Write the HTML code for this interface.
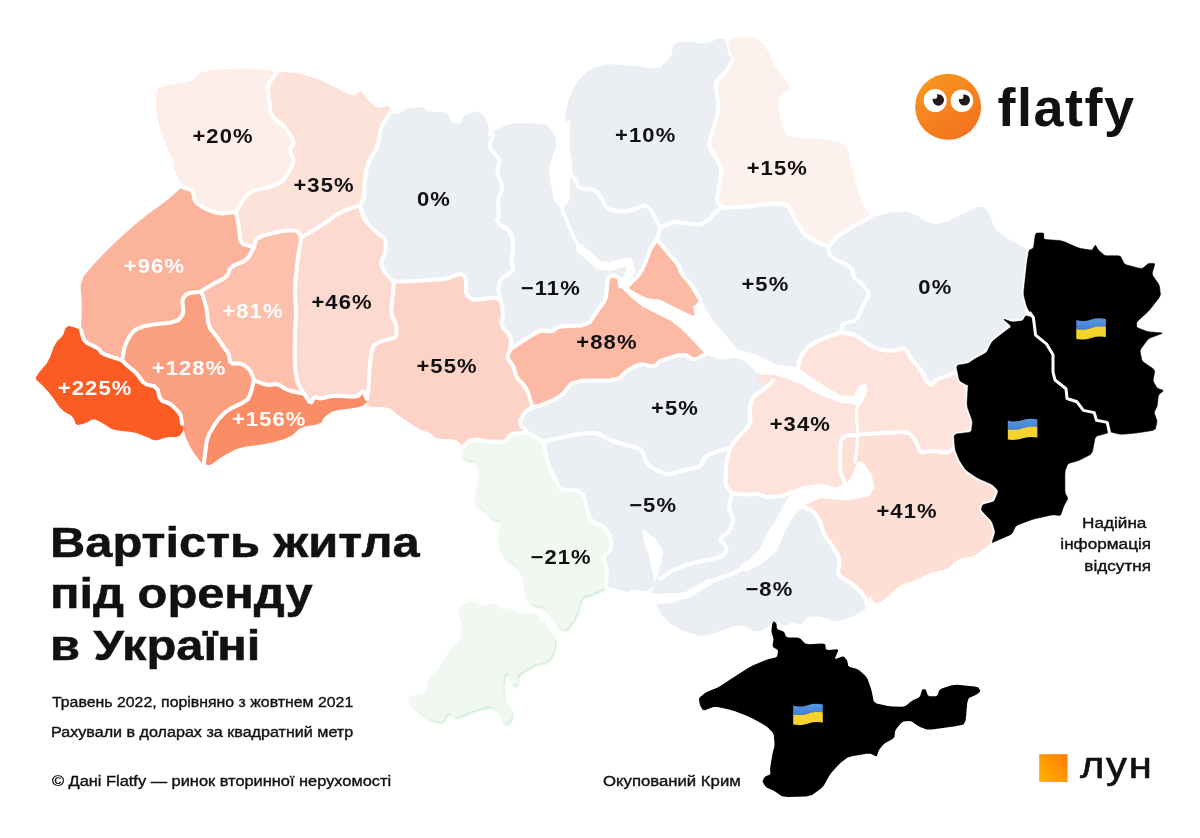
<!DOCTYPE html>
<html lang="uk"><head><meta charset="utf-8"><title>Вартість житла під оренду в Україні</title>
<style>
html,body{margin:0;padding:0;background:#fff}
body{width:1200px;height:838px;overflow:hidden;position:relative;font-family:"Liberation Sans",sans-serif;color:#111}
svg{position:absolute;left:0;top:0}
.lbl{font-family:"Liberation Sans",sans-serif;font-weight:700;font-size:20px;text-anchor:middle;letter-spacing:1px}
.t{position:absolute;white-space:nowrap;line-height:1}
</style></head><body>
<svg width="1200" height="838" viewBox="0 0 1200 838">
<defs>
<linearGradient id="og" x1="0.2" y1="0" x2="0.8" y2="1"><stop offset="0" stop-color="#f8961e"/><stop offset="1" stop-color="#f37020"/></linearGradient>
<linearGradient id="lg" x1="1" y1="0" x2="0" y2="1"><stop offset="0" stop-color="#ff7a00"/><stop offset="1" stop-color="#ffb400"/></linearGradient>
<linearGradient id="fb" x1="0" y1="0" x2="0" y2="1"><stop offset="0" stop-color="#5a97e2"/><stop offset="1" stop-color="#3f7fd6"/></linearGradient>
<filter id="gs" x="-10%" y="-10%" width="125%" height="125%"><feDropShadow dx="1" dy="1.6" stdDeviation="1.1" flood-color="#8fd6a0" flood-opacity="0.5"/></filter>
<g id="flag"><path d="M0,1.8 C5,3.4 10,2.8 15,1.2 C20,-0.4 25,-0.4 29.6,0.8 L29.6,9 C25,8 20,8.2 15,9.8 C10,11.4 5,12 0,10.8 Z" fill="url(#fb)"/><path d="M0,10.6 C5,11.8 10,11.2 15,9.6 C20,8 25,7.8 29.6,8.6 L29.6,18.8 C25,17.8 20,18 15,19.6 C10,21.2 5,21.8 0,20.8 Z" fill="#f6d22e"/></g>
</defs>

<g stroke="none">
<polygon fill="#ebeef3" points="391.0,111.8 396.2,114.2 399.4,113.4 404.9,109.4 410.0,107.7 419.7,107.0 424.0,107.8 427.1,110.9 432.0,112.0 443.2,112.0 448.1,114.2 451.2,120.6 453.9,123.0 458.7,123.8 461.1,122.2 463.5,116.6 467.2,114.0 476.1,111.5 480.6,112.6 485.4,118.1 487.5,122.7 489.7,133.5 492.9,134.5 492.6,137.2 489.5,144.4 490.8,149.5 498.0,157.5 499.6,162.3 497.2,168.8 497.7,174.1 501.7,183.8 501.9,189.7 498.8,197.6 498.0,203.5 498.7,213.2 498.5,217.5 496.9,220.6 499.3,223.8 508.1,230.3 511.6,235.1 513.2,243.1 513.2,249.0 511.6,258.6 511.6,263.4 513.2,268.2 511.1,271.7 503.1,277.3 499.9,281.4 498.5,287.8 498.5,292.1 500.6,300.3 496.4,298.1 491.0,298.1 478.2,299.8 472.3,299.2 467.5,296.1 465.9,291.3 465.9,280.0 464.5,275.8 460.4,274.1 456.6,274.7 449.4,277.9 442.8,279.3 430.0,280.0 422.6,280.6 412.9,281.3 406.5,281.6 393.7,281.6 387.3,275.2 384.6,271.5 381.4,265.0 381.4,260.8 384.6,254.3 385.7,249.5 385.7,241.5 384.1,237.7 379.2,234.6 374.9,230.8 367.0,222.7 363.4,217.1 360.0,205.4 363.4,198.7 364.3,194.3 364.3,186.4 365.0,179.7 366.9,167.6 369.6,160.3 375.6,150.3 378.3,143.0 380.3,130.9 383.0,123.9"/>
<polygon fill="#ebeef3" points="489.7,133.5 493.9,131.3 498.2,129.2 507.8,124.4 518.5,123.0 541.0,123.8 549.6,125.9 552.8,131.6 555.9,132.0 564.0,126.0 565.6,142.0 566.8,148.8 569.2,157.2 570.0,162.8 570.0,171.2 571.2,175.2 574.8,178.8 576.4,181.6 577.6,186.4 581.6,188.4 592.4,189.6 597.3,192.0 601.4,198.0 603.5,201.7 606.0,206.7 609.1,209.1 616.2,211.0 621.5,211.4 630.6,210.3 635.6,209.0 641.6,206.0 644.6,205.3 647.6,206.4 649.6,208.4 652.6,213.3 654.9,217.5 660.3,227.6 657.0,239.3 651.6,246.7 649.6,250.5 647.7,256.5 645.7,261.5 641.6,270.5 637.6,276.2 626.9,286.9 620.4,286.4 619.3,279.4 617.8,277.1 614.0,275.5 611.8,275.5 608.8,277.1 607.6,280.1 607.0,287.5 606.5,292.0 605.6,298.2 603.8,302.2 599.3,308.2 595.8,313.2 589.8,322.2 581.8,325.5 563.7,326.2 556.7,327.5 553.7,330.5 550.2,331.2 542.7,330.5 537.7,331.7 530.1,336.2 524.6,339.7 515.6,345.8 512.1,348.2 510.0,350.0 511.0,340.2 509.2,335.1 502.7,327.1 501.1,322.3 502.8,315.8 502.8,311.0 500.6,300.3 498.5,292.1 498.5,287.8 499.9,281.4 503.1,277.3 511.1,271.7 513.2,268.2 511.6,263.4 511.6,258.6 513.2,249.0 513.2,243.1 511.6,235.1 508.1,230.3 499.3,223.8 496.9,220.6 498.5,217.5 498.7,213.2 498.0,203.5 498.8,197.6 501.9,189.7 501.7,183.8 497.7,174.1 497.2,168.8 499.6,162.3 498.0,157.5 490.8,149.5 489.5,144.4 492.6,137.2 492.9,134.5"/>
<polygon fill="#ebeef3" points="564.0,126.0 566.2,109.7 568.3,101.3 573.2,88.5 578.0,81.0 587.6,71.2 594.5,67.2 605.8,64.8 613.8,64.3 626.6,65.2 636.2,66.3 652.3,68.7 660.3,67.1 668.3,59.8 671.5,54.5 673.2,45.6 676.4,42.4 684.3,41.7 690.8,41.9 702.0,43.5 709.5,42.4 720.8,37.6 725.3,39.8 727.7,51.0 729.3,55.8 732.5,60.0 728.1,68.6 724.6,72.9 717.4,79.4 715.8,86.8 718.2,102.7 718.0,111.8 714.8,123.2 712.7,130.7 709.5,142.0 710.0,148.4 714.9,156.3 717.6,161.1 720.7,167.6 721.2,172.9 719.6,182.6 718.5,189.0 717.0,198.6 717.7,202.9 722.5,207.5 718.1,209.5 715.7,211.7 711.7,216.7 708.4,219.7 702.4,223.7 697.7,224.7 689.7,223.7 684.3,223.1 676.4,222.0 671.0,222.9 660.3,227.6 654.9,217.5 652.6,213.3 649.6,208.4 647.6,206.4 644.6,205.3 641.6,206.0 635.6,209.0 630.6,210.3 621.5,211.4 616.2,211.0 609.1,209.1 606.0,206.7 603.5,201.7 601.4,198.0 597.3,192.0 592.4,189.6 581.6,188.4 577.6,186.4 576.4,181.6 574.8,178.8 571.2,175.2 570.0,171.2 570.0,162.8 569.2,157.2 566.8,148.8 565.6,142.0"/>
<polygon fill="#ebeef3" points="660.3,227.6 671.0,222.9 676.4,222.0 684.3,223.1 689.7,223.7 697.7,224.7 702.4,223.7 708.4,219.7 711.7,216.7 715.7,211.7 718.1,209.5 722.5,207.5 739.5,207.3 748.4,206.5 762.3,204.5 771.0,203.8 783.0,203.8 788.4,206.5 792.4,214.5 795.8,220.6 801.8,230.6 805.8,235.3 811.9,239.3 816.8,241.9 828.4,247.0 829.7,255.0 834.4,259.0 847.4,265.0 852.1,269.0 853.2,275.0 855.2,278.3 860.1,282.4 863.4,285.7 868.4,291.7 868.7,295.7 864.8,301.7 862.2,307.0 858.1,317.1 853.8,321.1 844.8,323.1 841.8,325.4 842.0,332.0 827.9,336.8 821.2,339.6 811.5,344.4 806.7,348.2 801.9,354.6 799.6,359.8 797.0,372.0 780.2,369.6 772.8,368.0 763.2,365.0 757.8,362.8 751.2,359.2 746.6,357.2 739.4,354.8 734.0,352.2 725.0,346.8 719.2,341.6 710.8,331.4 706.5,322.5 700.4,300.3 692.4,286.9 688.6,281.5 683.0,275.5 680.7,271.8 679.2,266.9 676.4,262.5 669.3,254.5 665.0,249.3 657.0,239.3"/>
<polygon fill="#ebeef3" points="870.7,217.2 889.0,212.9 896.9,211.8 907.0,211.8 915.0,214.5 929.0,222.5 937.0,224.2 947.1,221.0 953.7,218.4 963.7,213.4 970.0,210.4 979.0,206.4 983.7,207.0 988.8,213.0 991.2,217.4 993.1,224.5 995.8,228.9 1001.8,234.9 1006.5,238.2 1014.5,242.3 1019.6,244.9 1029.0,250.3 1027.3,260.8 1026.7,265.6 1026.0,272.1 1025.4,278.2 1024.0,289.9 1024.3,296.4 1026.2,304.3 1027.1,308.3 1028.0,314.0 1023.6,319.6 1020.3,321.2 1013.9,321.8 1010.0,321.4 1004.7,319.4 1004.7,320.3 1010.0,324.9 1010.0,327.7 1004.7,331.7 1000.8,334.7 994.2,339.9 990.9,343.8 987.8,350.3 984.3,353.8 977.2,357.7 973.5,359.9 969.5,362.5 965.8,363.8 958.7,365.1 956.6,366.8 958.0,372.0 949.5,374.8 945.3,376.3 938.8,378.8 935.4,380.9 931.3,385.0 928.1,383.1 922.5,373.4 918.5,367.5 912.1,359.5 908.9,354.9 905.7,349.4 901.9,348.3 893.9,350.7 887.5,350.7 876.2,348.3 869.3,345.1 859.7,337.9 853.6,334.8 842.0,332.0 841.8,325.4 844.8,323.1 853.8,321.1 858.1,317.1 862.2,307.0 864.8,301.7 868.7,295.7 868.4,291.7 863.4,285.7 860.1,282.4 855.2,278.3 853.2,275.0 852.1,269.0 847.4,265.0 834.4,259.0 829.7,255.0 828.4,247.0 835.1,239.0 839.4,235.2 847.4,229.8 854.1,225.8"/>
<polygon fill="#ebeef3" points="532.5,407.0 538.8,405.8 544.4,403.8 556.4,398.7 563.1,393.7 571.1,383.7 582.5,380.4 608.5,380.4 619.2,378.4 625.2,372.4 629.9,369.1 637.9,365.0 643.3,364.4 651.3,366.3 655.3,365.7 659.4,361.7 665.4,359.1 679.3,355.0 686.0,355.0 692.0,359.1 696.4,359.1 705.8,353.7 719.4,358.3 725.4,359.0 733.4,357.3 738.2,357.8 744.6,361.0 748.9,364.2 755.4,370.7 760.6,374.3 773.0,380.0 769.2,385.0 765.0,388.4 755.4,394.9 751.7,399.7 750.0,407.6 749.8,413.0 750.6,421.0 747.9,426.9 739.0,436.5 734.7,441.4 729.7,448.0 721.1,450.2 716.3,451.8 708.4,454.9 704.6,458.1 701.4,464.6 697.6,467.2 689.7,468.9 683.2,470.5 672.0,473.7 666.1,474.0 659.6,471.5 655.4,469.4 648.9,465.3 645.8,461.1 643.0,452.6 640.4,449.2 635.6,447.5 631.9,446.5 625.5,444.9 620.2,443.3 610.6,440.1 605.3,437.7 598.8,433.7 593.5,432.7 583.8,433.4 575.3,434.8 559.3,437.9 551.8,439.5 543.2,441.7 535.6,437.1 532.4,435.3 527.2,432.4 520.6,424.9 520.1,420.9 523.4,414.4 526.1,411.2"/>
<polygon fill="#ebeef3" points="543.2,441.7 551.8,439.5 559.3,437.9 575.3,434.8 583.8,433.4 593.5,432.7 598.8,433.7 605.3,437.7 610.6,440.1 620.2,443.3 625.5,444.9 631.9,446.5 635.6,447.5 640.4,449.2 643.0,452.6 645.8,461.1 648.9,465.3 655.4,469.4 659.6,471.5 666.1,474.0 672.0,473.7 683.2,470.5 689.7,468.9 697.6,467.2 701.4,464.6 704.6,458.1 708.4,454.9 716.3,451.8 721.1,450.2 729.7,448.0 726.5,463.0 725.7,470.5 725.7,481.7 727.0,487.1 732.4,493.5 729.2,504.1 729.5,509.5 732.6,517.5 732.9,522.4 730.5,528.8 727.6,532.6 721.1,537.4 720.6,540.6 725.4,545.4 726.5,548.6 724.9,553.4 722.3,555.8 715.8,558.2 710.5,559.5 700.8,561.2 694.9,562.5 687.0,564.9 681.6,566.8 673.6,569.9 668.8,572.6 660.2,579.0 656.0,584.6 653.0,587.2 647.0,590.8 642.7,592.3 635.8,593.4 630.8,593.0 622.7,590.7 617.2,589.4 605.9,587.0 606.9,575.3 606.4,569.2 604.0,559.6 604.8,555.3 609.6,552.1 611.2,548.3 611.2,540.3 609.9,535.5 605.8,529.1 601.6,525.7 592.7,521.6 589.3,517.9 587.7,510.6 586.1,504.7 582.9,494.4 577.5,490.6 564.7,489.8 559.3,487.4 556.1,480.9 553.7,476.1 549.7,468.2 547.4,460.7"/>
<polygon fill="#ebeef3" points="732.4,493.5 743.1,494.5 747.9,494.5 754.4,493.8 758.6,494.3 765.1,496.7 770.4,497.2 780.0,496.3 785.3,495.0 791.8,491.8 795.1,492.0 800.0,497.0 800.0,503.9 802.7,506.7 810.8,509.9 814.8,513.1 818.9,519.5 821.0,524.3 823.4,532.3 825.8,537.1 830.6,543.6 833.8,548.4 838.6,556.3 839.7,562.2 838.0,571.8 840.2,576.6 848.3,581.4 853.9,585.7 862.7,593.8 865.9,598.6 867.0,607.0 864.1,610.2 860.2,612.6 850.6,617.4 844.7,619.6 836.7,621.2 831.3,620.7 823.3,617.6 817.9,616.5 810.0,616.5 806.2,618.1 803.1,622.9 799.8,624.0 793.2,622.3 790.0,622.8 786.9,626.0 784.3,626.0 779.6,623.0 775.8,623.0 769.4,626.0 765.1,628.1 758.6,631.4 753.3,630.9 743.6,626.1 737.2,625.6 727.6,628.7 720.1,631.1 707.3,635.2 699.8,635.7 690.2,633.3 683.8,630.9 674.1,626.1 668.8,622.4 662.3,615.9 659.2,611.0 656.0,602.8 654.0,598.4 651.0,593.6 652.0,589.4 660.2,579.0 668.8,572.6 673.6,569.9 681.6,566.8 687.0,564.9 694.9,562.5 700.8,561.2 710.5,559.5 715.8,558.2 722.3,555.8 724.9,553.4 726.5,548.6 725.4,545.4 720.6,540.6 721.1,537.4 727.6,532.6 730.5,528.8 732.9,522.4 732.6,517.5 729.5,509.5 729.2,504.1"/>
<polygon fill="#feeee9" points="182.0,187.0 181.2,184.0 179.8,181.0 176.2,173.9 174.5,169.3 173.2,162.3 171.3,156.7 167.1,146.9 163.8,138.4 158.3,123.0 156.2,112.0 155.4,94.4 158.2,87.9 167.4,85.7 175.1,84.1 189.1,81.3 194.7,79.0 197.6,74.8 200.8,72.7 207.7,70.7 214.7,69.7 228.9,69.0 238.3,68.7 252.3,68.7 261.1,69.3 277.4,71.7 269.5,82.3 267.7,87.4 268.5,94.4 269.2,100.5 270.5,111.8 273.8,117.8 282.2,124.9 286.9,130.0 292.5,138.4 293.5,143.1 290.6,148.7 290.6,152.5 293.5,158.1 293.5,162.3 290.6,169.3 287.8,173.9 282.3,181.0 277.6,184.2 269.1,187.1 263.5,188.5 255.1,189.9 250.4,192.3 244.8,197.8 241.5,202.2 236.0,212.0 222.8,213.4 216.7,212.8 208.3,209.9 203.4,207.6 197.1,203.4 194.5,199.7 193.1,192.7 190.5,189.7"/>
<polygon fill="#fde2d9" points="277.4,71.7 296.1,73.1 304.8,74.7 316.8,78.7 323.4,81.4 331.4,85.4 338.0,88.8 350.0,94.8 355.4,95.4 359.6,91.4 362.3,92.0 366.3,98.0 369.6,101.7 375.6,106.8 379.9,107.8 387.0,105.7 389.6,106.4 391.0,111.8 383.0,123.9 380.3,130.9 378.3,143.0 375.6,150.3 369.6,160.3 366.9,167.6 365.0,179.7 364.3,186.4 364.3,194.3 363.4,198.7 360.0,205.4 344.2,210.7 336.5,214.7 325.2,222.8 317.5,227.9 301.4,237.5 298.2,231.9 294.7,230.5 286.7,230.5 278.7,231.8 262.6,235.7 256.6,239.0 254.0,247.0 243.3,244.4 240.3,240.4 239.3,230.4 238.4,224.0 236.0,212.0 241.5,202.2 244.8,197.8 250.4,192.3 255.1,189.9 263.5,188.5 269.1,187.1 277.6,184.2 282.3,181.0 287.8,173.9 290.6,169.3 293.5,162.3 293.5,158.1 290.6,152.5 290.6,148.7 293.5,143.1 292.5,138.4 286.9,130.0 282.2,124.9 273.8,117.8 270.5,111.8 269.2,100.5 268.5,94.4 267.7,87.4 269.5,82.3"/>
<polygon fill="#fcb39c" points="81.0,330.0 81.7,311.4 81.6,301.4 80.5,285.4 83.6,276.1 93.6,264.4 101.0,256.5 113.0,244.5 122.3,235.8 138.4,221.7 148.4,213.7 162.3,203.7 170.0,197.7 182.0,187.0 190.5,189.7 193.1,192.7 194.5,199.7 197.1,203.4 203.4,207.6 208.3,209.9 216.7,212.8 222.8,213.4 236.0,212.0 238.4,224.0 239.3,230.4 240.3,240.4 243.3,244.4 254.0,247.0 248.6,257.4 244.0,261.3 233.9,265.4 229.9,268.7 227.9,274.7 224.5,278.0 216.6,282.1 211.2,285.1 200.5,291.8 189.7,293.1 186.0,294.7 183.0,298.7 182.4,302.7 183.4,310.8 182.4,315.2 178.4,320.1 171.0,322.5 153.0,324.5 144.3,326.2 136.4,329.2 132.0,332.9 127.0,340.9 124.6,346.9 122.0,360.3 114.0,357.7 110.0,356.3 103.8,354.1 101.1,352.4 99.2,349.4 95.7,347.1 87.1,343.0 83.6,339.4"/>
<polygon fill="#fcc0ad" points="254.0,247.0 256.6,239.0 262.6,235.7 278.7,231.8 286.7,230.5 294.7,230.5 298.2,231.9 301.4,237.5 298.2,255.7 296.9,265.6 295.3,281.6 295.0,292.3 295.8,308.4 295.8,319.0 295.0,335.1 294.8,345.7 294.8,361.7 295.3,370.2 296.9,380.0 298.7,385.3 304.0,393.7 290.7,391.0 285.4,389.0 279.4,385.0 275.4,384.0 269.3,385.0 264.6,384.3 254.0,380.3 251.1,372.2 248.7,368.9 243.7,364.8 239.7,363.5 232.6,363.5 230.0,361.5 229.0,355.5 227.7,352.2 224.6,348.1 222.3,344.8 218.3,338.8 215.3,334.8 210.3,328.8 208.3,323.4 207.2,313.4 206.1,307.0 203.6,298.0 202.3,294.4 200.5,291.8 211.2,285.1 216.6,282.1 224.5,278.0 227.9,274.7 229.9,268.7 233.9,265.4 244.0,261.3 248.6,257.4"/>
<polygon fill="#fddad0" points="301.4,237.5 317.5,227.9 325.2,222.8 336.5,214.7 344.2,210.7 360.0,205.4 363.4,217.1 367.0,222.7 374.9,230.8 379.2,234.6 384.1,237.7 385.7,241.5 385.7,249.5 384.6,254.3 381.4,260.8 381.4,265.0 384.6,271.5 387.3,275.2 393.7,281.6 392.7,296.6 392.1,303.0 391.3,311.0 392.1,315.8 395.3,322.3 396.4,327.1 396.4,335.1 393.7,338.3 385.7,339.9 380.9,341.5 374.4,344.7 371.8,350.1 370.1,362.9 369.3,372.0 368.6,386.4 368.0,392.8 367.0,399.0 363.5,392.0 361.6,391.6 358.6,395.7 352.9,396.7 338.7,395.7 331.4,396.1 323.4,398.0 319.4,398.4 315.4,397.3 313.4,398.3 311.4,402.4 309.4,401.7 304.0,393.7 298.7,385.3 296.9,380.0 295.3,370.2 294.8,361.7 294.8,345.7 295.0,335.1 295.8,319.0 295.8,308.4 295.0,292.3 295.3,281.6 296.9,265.6 298.2,255.7"/>
<polygon fill="#fc5b24" points="81.0,330.0 76.2,328.0 73.7,327.2 69.7,326.1 67.7,326.3 65.7,327.9 64.7,329.7 63.7,333.7 61.7,336.7 56.7,341.7 53.7,347.1 49.7,358.1 46.7,363.6 41.7,369.2 39.0,372.6 36.0,377.2 36.0,379.6 39.0,382.2 42.0,385.1 48.0,391.4 52.3,396.8 59.4,406.9 64.0,411.6 71.1,415.6 73.9,418.7 75.4,423.6 77.7,425.0 83.3,423.9 86.8,422.6 91.8,419.6 95.5,419.6 101.5,422.6 105.5,424.9 111.5,429.0 117.5,430.6 129.6,431.7 136.3,433.0 144.3,436.0 148.7,437.8 153.6,440.2 157.6,440.2 164.7,437.8 169.3,437.0 176.4,437.0 179.7,435.7 182.7,431.6 183.4,429.0 182.0,423.8 180.8,415.7 178.5,411.7 172.4,405.7 168.4,403.0 162.4,401.1 159.7,397.7 157.7,389.7 154.3,386.3 146.4,384.4 142.4,381.7 138.3,375.6 135.0,371.9 129.0,367.0 126.0,364.3 122.0,360.3 114.0,357.7 110.0,356.3 103.8,354.1 101.1,352.4 99.2,349.4 95.7,347.1 87.1,343.0 83.6,339.4"/>
<polygon fill="#fb9f81" points="200.5,291.8 189.7,293.1 186.0,294.7 183.0,298.7 182.4,302.7 183.4,310.8 182.4,315.2 178.4,320.1 171.0,322.5 153.0,324.5 144.3,326.2 136.4,329.2 132.0,332.9 127.0,340.9 124.6,346.9 122.0,360.3 126.0,364.3 129.0,367.0 135.0,371.9 138.3,375.6 142.4,381.7 146.4,384.4 154.3,386.3 157.7,389.7 159.7,397.7 162.4,401.1 168.4,403.0 172.4,405.7 178.5,411.7 180.8,415.7 182.0,423.8 184.8,434.4 186.8,439.7 190.7,447.8 193.7,452.8 198.8,459.7 201.2,462.4 203.8,463.9 206.5,442.4 209.2,433.7 215.2,423.7 219.2,418.4 225.2,412.4 231.2,408.4 243.3,402.4 248.0,399.1 249.9,395.0 251.3,391.0 254.0,380.3 251.1,372.2 248.7,368.9 243.7,364.8 239.7,363.5 232.6,363.5 230.0,361.5 229.0,355.5 227.7,352.2 224.6,348.1 222.3,344.8 218.3,338.8 215.3,334.8 210.3,328.8 208.3,323.4 207.2,313.4 206.1,307.0 203.6,298.0 202.3,294.4"/>
<polygon fill="#fa8c66" points="254.0,380.3 251.3,391.0 249.9,395.0 248.0,399.1 243.3,402.4 231.2,408.4 225.2,412.4 219.2,418.4 215.2,423.7 209.2,433.7 206.5,442.4 203.8,463.9 209.2,465.2 212.5,463.8 218.6,458.9 224.6,455.2 236.6,449.0 245.9,446.4 262.0,444.4 272.0,442.4 286.0,438.4 292.7,435.0 298.8,429.0 304.8,426.4 316.8,424.4 321.4,422.4 323.4,418.4 326.0,415.7 332.0,411.7 339.4,409.7 355.6,407.7 362.3,406.0 366.3,403.0 367.5,401.4 367.0,399.0 363.5,392.0 361.6,391.6 358.6,395.7 352.9,396.7 338.7,395.7 331.4,396.1 323.4,398.0 319.4,398.4 315.4,397.3 313.4,398.3 311.4,402.4 309.4,401.7 304.0,393.7 290.7,391.0 285.4,389.0 279.4,385.0 275.4,384.0 269.3,385.0 264.6,384.3"/>
<polygon fill="#fdd3c7" points="393.7,281.6 406.5,281.6 412.9,281.3 422.6,280.6 430.0,280.0 442.8,279.3 449.4,277.9 456.6,274.7 460.4,274.1 464.5,275.8 465.9,280.0 465.9,291.3 467.5,296.1 472.3,299.2 478.2,299.8 491.0,298.1 496.4,298.1 500.6,300.3 502.8,311.0 502.8,315.8 501.1,322.3 502.7,327.1 509.2,335.1 511.0,340.2 510.0,350.0 507.6,356.0 508.4,359.4 512.4,364.9 514.3,368.9 516.0,375.4 518.1,379.1 522.9,384.0 525.3,387.2 527.7,392.0 529.3,396.3 532.5,407.0 526.1,411.2 523.4,414.4 520.1,420.9 520.6,424.9 527.2,432.4 514.2,433.4 510.0,435.3 506.8,440.1 502.6,441.7 492.9,441.7 486.0,441.2 474.7,439.5 469.4,440.6 463.0,447.0 456.6,440.6 451.3,439.0 440.0,439.0 435.2,437.9 432.1,434.8 428.3,432.6 420.2,429.4 414.3,426.2 404.7,419.7 398.8,415.5 390.7,409.1 383.8,407.0 371.2,407.0 367.0,405.4 367.0,399.0 368.0,392.8 368.6,386.4 369.3,372.0 370.1,362.9 371.8,350.1 374.4,344.7 380.9,341.5 385.7,339.9 393.7,338.3 396.4,335.1 396.4,327.1 395.3,322.3 392.1,315.8 391.3,311.0 392.1,303.0 392.7,296.6"/>
<polygon fill="#fcb9a4" points="510.0,350.0 512.1,348.2 515.6,345.8 524.6,339.7 530.1,336.2 537.7,331.7 542.7,330.5 550.2,331.2 553.7,330.5 556.7,327.5 563.7,326.2 581.8,325.5 589.8,322.2 595.8,313.2 599.3,308.2 603.8,302.2 605.6,298.2 606.5,292.0 607.0,287.5 607.6,280.1 608.8,277.1 611.8,275.5 614.0,275.5 617.8,277.1 619.3,279.4 620.4,286.4 628.4,294.4 632.9,298.4 640.4,304.4 645.4,307.7 652.9,311.4 658.4,314.2 667.5,318.7 672.5,321.7 678.5,326.2 683.0,330.2 690.5,337.8 695.6,343.0 705.8,353.7 696.4,359.1 692.0,359.1 686.0,355.0 679.3,355.0 665.4,359.1 659.4,361.7 655.3,365.7 651.3,366.3 643.3,364.4 637.9,365.0 629.9,369.1 625.2,372.4 619.2,378.4 608.5,380.4 582.5,380.4 571.1,383.7 563.1,393.7 556.4,398.7 544.4,403.8 538.8,405.8 532.5,407.0 529.3,396.3 527.7,392.0 525.3,387.2 522.9,384.0 518.1,379.1 516.0,375.4 514.3,368.9 512.4,364.9 508.4,359.4 507.6,356.0"/>
<polygon fill="#fcb9a4" points="657.0,239.3 665.0,249.3 669.3,254.5 676.4,262.5 679.2,266.9 680.7,271.8 683.0,275.5 688.6,281.5 692.4,286.9 700.4,300.3 695.0,305.7 694.0,309.0 695.1,315.0 693.7,316.3 688.7,314.3 684.3,312.3 676.4,308.3 671.0,305.7 663.0,301.6 657.6,300.0 649.7,298.9 644.3,297.3 636.3,293.2 632.3,290.9 626.9,286.9 637.6,276.2 641.6,270.5 645.7,261.5 647.7,256.5 649.6,250.5 651.6,246.7"/>
<polygon fill="#fdf1ee" points="732.5,60.0 728.1,43.0 731.3,38.2 744.3,36.5 751.3,37.1 759.3,40.3 763.6,44.1 768.4,52.1 771.1,57.4 774.2,65.4 778.0,71.0 786.0,79.8 789.0,84.1 789.7,88.2 788.1,90.6 782.6,93.8 780.2,97.0 778.5,103.5 778.8,109.3 781.2,120.6 782.8,126.4 785.2,132.9 788.1,135.5 794.6,137.1 801.5,137.9 815.9,138.7 825.0,139.8 837.7,142.2 843.1,143.8 846.2,146.2 848.0,149.7 849.9,157.7 851.9,165.7 856.0,181.7 858.6,191.0 862.7,203.2 865.3,209.2 870.7,217.2 854.1,225.8 847.4,229.8 839.4,235.2 835.1,239.0 828.4,247.0 816.8,241.9 811.9,239.3 805.8,235.3 801.8,230.6 795.8,220.6 792.4,214.5 788.4,206.5 783.0,203.8 771.0,203.8 762.3,204.5 748.4,206.5 739.5,207.3 722.5,207.5 717.7,202.9 717.0,198.6 718.5,189.0 719.6,182.6 721.2,172.9 720.7,167.6 717.6,161.1 714.9,156.3 710.0,148.4 709.5,142.0 712.7,130.7 714.8,123.2 718.0,111.8 718.2,102.7 715.8,86.8 717.4,79.4 724.6,72.9 728.1,68.6"/>
<polygon fill="#fde3dc" points="799.6,359.8 801.9,354.6 806.7,348.2 811.5,344.4 821.2,339.6 827.9,336.8 842.0,332.0 853.6,334.8 859.7,337.9 869.3,345.1 876.2,348.3 887.5,350.7 893.9,350.7 901.9,348.3 905.7,349.4 908.9,354.9 912.1,359.5 918.5,367.5 922.5,373.4 928.1,383.1 931.3,385.0 935.4,380.9 938.8,378.8 945.3,376.3 949.5,374.8 958.0,372.0 959.2,379.0 961.0,381.6 965.5,384.1 967.2,388.4 968.0,398.6 968.0,402.8 967.2,405.2 968.1,409.1 971.5,418.2 972.4,423.5 971.7,429.9 968.0,432.5 957.5,433.9 954.2,436.8 955.0,447.0 948.9,451.8 944.2,452.5 934.5,450.9 929.2,450.9 922.7,452.5 919.5,450.3 916.4,442.4 913.7,438.1 908.9,433.3 902.5,432.0 888.0,432.7 878.9,433.3 866.1,434.1 857.8,434.7 846.0,435.7 841.6,438.8 840.4,447.2 840.0,454.0 840.0,466.0 841.0,472.8 845.0,484.0 838.4,487.2 833.5,487.2 823.8,484.8 816.9,484.6 805.7,486.2 801.6,488.8 800.0,497.0 795.1,492.0 791.8,491.8 785.3,495.0 780.0,496.3 770.4,497.2 765.1,496.7 758.6,494.3 754.4,493.8 747.9,494.5 743.1,494.5 732.4,493.5 727.0,487.1 725.7,481.7 725.7,470.5 726.5,463.0 729.7,448.0 734.7,441.4 739.0,436.5 747.9,426.9 750.6,421.0 749.8,413.0 750.0,407.6 751.7,399.7 755.4,394.9 765.0,388.4 769.2,385.0 773.0,380.0 768.0,384.0 762.0,383.5 757.0,381.0 757.5,376.5 762.0,374.8 772.0,374.6 780.0,375.5 788.0,378.0"/>
<polygon fill="#fddfd6" points="845.0,484.0 841.0,472.8 840.0,466.0 840.0,454.0 840.4,447.2 841.6,438.8 846.0,435.7 857.8,434.7 866.1,434.1 878.9,433.3 888.0,432.7 902.5,432.0 908.9,433.3 913.7,438.1 916.4,442.4 919.5,450.3 922.7,452.5 929.2,450.9 934.5,450.9 944.2,452.5 948.9,451.8 955.0,447.0 958.6,457.7 960.8,462.3 964.7,468.2 968.2,471.6 974.8,476.2 980.0,479.0 989.0,483.0 993.3,485.6 997.3,489.5 997.7,493.0 995.2,499.4 991.9,502.3 984.8,504.2 982.2,506.0 981.5,509.2 983.4,512.5 989.9,519.0 992.7,523.4 994.7,529.8 994.7,534.2 992.0,542.9 986.1,547.2 982.5,549.9 976.1,554.8 970.8,556.9 961.1,558.5 955.8,561.1 949.3,567.6 944.0,570.2 934.2,571.9 927.8,574.0 918.2,578.8 911.8,581.5 902.2,584.7 896.3,588.4 888.4,596.4 883.6,600.1 877.1,603.4 873.9,602.4 870.7,595.9 869.1,596.4 867.0,607.0 865.9,598.6 862.7,593.8 853.9,585.7 848.3,581.4 840.2,576.6 838.0,571.8 839.7,562.2 838.6,556.3 833.8,548.4 830.6,543.6 825.8,537.1 823.4,532.3 821.0,524.3 818.9,519.5 814.8,513.1 810.8,509.9 802.7,506.7 800.0,503.9 800.0,497.0 801.6,488.8 805.7,486.2 816.9,484.6 823.8,484.8 833.5,487.2 838.4,487.2"/>
<polygon fill="#f1f8f2" filter="url(#gs)" points="463.0,447.0 469.4,440.6 474.7,439.5 486.0,441.2 492.9,441.7 502.6,441.7 506.8,440.1 510.0,435.3 514.2,433.4 527.2,432.4 532.4,435.3 535.6,437.1 543.2,441.7 547.4,460.7 549.7,468.2 553.7,476.1 556.1,480.9 559.3,487.4 564.7,489.8 577.5,490.6 582.9,494.4 586.1,504.7 587.7,510.6 589.3,517.9 592.7,521.6 601.6,525.7 605.8,529.1 609.9,535.5 611.2,540.3 611.2,548.3 609.6,552.1 604.8,555.3 604.0,559.6 606.4,569.2 606.9,575.3 605.9,587.0 595.2,592.4 590.4,594.3 583.9,596.0 580.7,600.2 577.6,611.5 574.4,618.4 567.9,628.0 564.2,630.1 559.4,627.0 555.4,622.2 548.1,610.9 542.8,606.7 533.9,605.0 529.7,602.4 525.6,595.9 524.3,590.6 524.3,581.0 523.0,575.6 518.9,569.2 514.4,564.3 504.8,556.4 500.8,550.5 498.4,540.8 498.4,534.1 500.8,523.8 500.0,520.3 495.2,520.3 492.0,518.4 487.2,512.8 483.2,509.3 475.9,504.5 474.3,499.7 476.7,490.0 477.8,483.6 478.6,474.0 478.1,468.6 475.7,462.2 473.0,460.0 467.4,460.0 464.7,459.0 462.3,455.8 461.8,453.2"/>
<polygon fill="#f1f8f2" filter="url(#gs)" points="461.5,606.4 469.5,601.6 474.3,601.4 480.8,605.4 484.5,606.0 489.3,603.6 493.0,604.1 499.5,608.2 503.2,609.2 508.0,608.3 510.7,609.1 513.9,612.4 518.7,613.5 530.0,613.5 535.8,615.6 542.3,622.1 546.5,626.9 552.9,634.8 555.0,639.6 555.0,646.1 553.7,650.9 549.7,658.9 545.5,662.1 536.6,663.8 532.1,665.4 527.3,668.5 524.1,670.7 519.2,673.9 517.6,676.9 517.6,682.4 516.5,684.6 513.4,685.4 511.5,683.0 509.1,675.0 507.5,672.8 505.1,674.5 504.0,677.7 503.3,685.6 503.3,691.0 504.0,699.0 506.2,704.4 511.7,712.3 512.3,716.9 508.3,722.5 506.2,724.1 503.8,723.3 502.5,720.9 500.8,714.5 498.4,711.1 492.9,707.0 487.8,706.5 478.1,708.9 471.1,711.3 459.8,716.2 454.7,716.7 450.8,713.5 448.7,712.9 446.3,714.5 445.0,716.4 443.3,720.4 440.6,721.5 434.2,720.7 428.8,718.3 419.2,711.8 414.4,707.6 409.6,701.1 409.1,698.2 412.3,695.8 415.8,694.7 423.0,694.0 425.9,691.0 427.5,683.0 430.4,677.6 437.6,669.7 441.6,664.0 446.4,655.2 450.4,649.8 457.6,642.6 460.6,637.0 462.2,627.4 462.0,622.1 459.6,615.6 458.8,612.4 458.8,609.1"/>
</g>
<g fill="none" stroke="#fff" stroke-width="4" stroke-linejoin="round" stroke-linecap="round">
<polyline points="277.4,71.7 269.5,82.3 267.7,87.4 268.5,94.4 269.2,100.5 270.5,111.8 273.8,117.8 282.2,124.9 286.9,130.0 292.5,138.4 293.5,143.1 290.6,148.7 290.6,152.5 293.5,158.1 293.5,162.3 290.6,169.3 287.8,173.9 282.3,181.0 277.6,184.2 269.1,187.1 263.5,188.5 255.1,189.9 250.4,192.3 244.8,197.8 241.5,202.2 236.0,212.0"/>
<polyline points="236.0,212.0 222.8,213.4 216.7,212.8 208.3,209.9 203.4,207.6 197.1,203.4 194.5,199.7 193.1,192.7 190.5,189.7 182.0,187.0"/>
<polyline points="391.0,111.8 383.0,123.9 380.3,130.9 378.3,143.0 375.6,150.3 369.6,160.3 366.9,167.6 365.0,179.7 364.3,186.4 364.3,194.3 363.4,198.7 360.0,205.4"/>
<polyline points="360.0,205.4 344.2,210.7 336.5,214.7 325.2,222.8 317.5,227.9 301.4,237.5"/>
<polyline points="301.4,237.5 298.2,231.9 294.7,230.5 286.7,230.5 278.7,231.8 262.6,235.7 256.6,239.0 254.0,247.0"/>
<polyline points="254.0,247.0 243.3,244.4 240.3,240.4 239.3,230.4 238.4,224.0 236.0,212.0"/>
<polyline points="254.0,247.0 248.6,257.4 244.0,261.3 233.9,265.4 229.9,268.7 227.9,274.7 224.5,278.0 216.6,282.1 211.2,285.1 200.5,291.8"/>
<polyline points="200.5,291.8 189.7,293.1 186.0,294.7 183.0,298.7 182.4,302.7 183.4,310.8 182.4,315.2 178.4,320.1 171.0,322.5 153.0,324.5 144.3,326.2 136.4,329.2 132.0,332.9 127.0,340.9 124.6,346.9 122.0,360.3"/>
<polyline points="122.0,360.3 114.0,357.7 110.0,356.3 103.8,354.1 101.1,352.4 99.2,349.4 95.7,347.1 87.1,343.0 83.6,339.4 81.0,330.0"/>
<polyline points="182.0,423.8 180.8,415.7 178.5,411.7 172.4,405.7 168.4,403.0 162.4,401.1 159.7,397.7 157.7,389.7 154.3,386.3 146.4,384.4 142.4,381.7 138.3,375.6 135.0,371.9 129.0,367.0 126.0,364.3 122.0,360.3"/>
<polyline points="200.5,291.8 202.3,294.4 203.6,298.0 206.1,307.0 207.2,313.4 208.3,323.4 210.3,328.8 215.3,334.8 218.3,338.8 222.3,344.8 224.6,348.1 227.7,352.2 229.0,355.5 230.0,361.5 232.6,363.5 239.7,363.5 243.7,364.8 248.7,368.9 251.1,372.2 254.0,380.3"/>
<polyline points="254.0,380.3 251.3,391.0 249.9,395.0 248.0,399.1 243.3,402.4 231.2,408.4 225.2,412.4 219.2,418.4 215.2,423.7 209.2,433.7 206.5,442.4 203.8,463.9"/>
<polyline points="301.4,237.5 298.2,255.7 296.9,265.6 295.3,281.6 295.0,292.3 295.8,308.4 295.8,319.0 295.0,335.1 294.8,345.7 294.8,361.7 295.3,370.2 296.9,380.0 298.7,385.3 304.0,393.7"/>
<polyline points="304.0,393.7 290.7,391.0 285.4,389.0 279.4,385.0 275.4,384.0 269.3,385.0 264.6,384.3 254.0,380.3"/>
<polyline points="304.0,393.7 309.4,401.7 311.4,402.4 313.4,398.3 315.4,397.3 319.4,398.4 323.4,398.0 331.4,396.1 338.7,395.7 352.9,396.7 358.6,395.7 361.6,391.6 363.5,392.0 367.0,399.0"/>
<polyline points="360.0,205.4 363.4,217.1 367.0,222.7 374.9,230.8 379.2,234.6 384.1,237.7 385.7,241.5 385.7,249.5 384.6,254.3 381.4,260.8 381.4,265.0 384.6,271.5 387.3,275.2 393.7,281.6"/>
<polyline points="393.7,281.6 392.7,296.6 392.1,303.0 391.3,311.0 392.1,315.8 395.3,322.3 396.4,327.1 396.4,335.1 393.7,338.3 385.7,339.9 380.9,341.5 374.4,344.7 371.8,350.1 370.1,362.9 369.3,372.0 368.6,386.4 368.0,392.8 367.0,399.0"/>
<polyline points="393.7,281.6 406.5,281.6 412.9,281.3 422.6,280.6 430.0,280.0 442.8,279.3 449.4,277.9 456.6,274.7 460.4,274.1 464.5,275.8 465.9,280.0 465.9,291.3 467.5,296.1 472.3,299.2 478.2,299.8 491.0,298.1 496.4,298.1 500.6,300.3"/>
<polyline points="500.6,300.3 502.8,311.0 502.8,315.8 501.1,322.3 502.7,327.1 509.2,335.1 511.0,340.2 510.0,350.0"/>
<polyline points="510.0,350.0 507.6,356.0 508.4,359.4 512.4,364.9 514.3,368.9 516.0,375.4 518.1,379.1 522.9,384.0 525.3,387.2 527.7,392.0 529.3,396.3 532.5,407.0"/>
<polyline points="532.5,407.0 526.1,411.2 523.4,414.4 520.1,420.9 520.6,424.9 527.2,432.4"/>
<polyline points="527.2,432.4 514.2,433.4 510.0,435.3 506.8,440.1 502.6,441.7 492.9,441.7 486.0,441.2 474.7,439.5 469.4,440.6 463.0,447.0"/>
<polyline points="489.7,133.5 492.9,134.5 492.6,137.2 489.5,144.4 490.8,149.5 498.0,157.5 499.6,162.3 497.2,168.8 497.7,174.1 501.7,183.8 501.9,189.7 498.8,197.6 498.0,203.5 498.7,213.2 498.5,217.5 496.9,220.6 499.3,223.8 508.1,230.3 511.6,235.1 513.2,243.1 513.2,249.0 511.6,258.6 511.6,263.4 513.2,268.2 511.1,271.7 503.1,277.3 499.9,281.4 498.5,287.8 498.5,292.1 500.6,300.3"/>
<polyline points="564.0,126.0 565.6,142.0 566.8,148.8 569.2,157.2 570.0,162.8 570.0,171.2 571.2,175.2 574.8,178.8 576.4,181.6 577.6,186.4 581.6,188.4 592.4,189.6 597.3,192.0 601.4,198.0 603.5,201.7 606.0,206.7 609.1,209.1 616.2,211.0 621.5,211.4 630.6,210.3 635.6,209.0 641.6,206.0 644.6,205.3 647.6,206.4 649.6,208.4 652.6,213.3 654.9,217.5 660.3,227.6"/>
<polyline points="732.5,60.0 728.1,68.6 724.6,72.9 717.4,79.4 715.8,86.8 718.2,102.7 718.0,111.8 714.8,123.2 712.7,130.7 709.5,142.0 710.0,148.4 714.9,156.3 717.6,161.1 720.7,167.6 721.2,172.9 719.6,182.6 718.5,189.0 717.0,198.6 717.7,202.9 722.5,207.5"/>
<polyline points="722.5,207.5 718.1,209.5 715.7,211.7 711.7,216.7 708.4,219.7 702.4,223.7 697.7,224.7 689.7,223.7 684.3,223.1 676.4,222.0 671.0,222.9 660.3,227.6"/>
<polyline points="870.7,217.2 854.1,225.8 847.4,229.8 839.4,235.2 835.1,239.0 828.4,247.0"/>
<polyline points="828.4,247.0 816.8,241.9 811.9,239.3 805.8,235.3 801.8,230.6 795.8,220.6 792.4,214.5 788.4,206.5 783.0,203.8 771.0,203.8 762.3,204.5 748.4,206.5 739.5,207.3 722.5,207.5"/>
<polyline points="1029.0,250.3 1027.3,260.8 1026.7,265.6 1026.0,272.1 1025.4,278.2 1024.0,289.9 1024.3,296.4 1026.2,304.3 1027.1,308.3 1028.0,314.0"/>
<polyline points="1028.0,314.0 1023.6,319.6 1020.3,321.2 1013.9,321.8 1010.0,321.4 1004.7,319.4 1004.7,320.3 1010.0,324.9 1010.0,327.7 1004.7,331.7 1000.8,334.7 994.2,339.9 990.9,343.8 987.8,350.3 984.3,353.8 977.2,357.7 973.5,359.9 969.5,362.5 965.8,363.8 958.7,365.1 956.6,366.8 958.0,372.0"/>
<polyline points="958.0,372.0 949.5,374.8 945.3,376.3 938.8,378.8 935.4,380.9 931.3,385.0 928.1,383.1 922.5,373.4 918.5,367.5 912.1,359.5 908.9,354.9 905.7,349.4 901.9,348.3 893.9,350.7 887.5,350.7 876.2,348.3 869.3,345.1 859.7,337.9 853.6,334.8 842.0,332.0"/>
<polyline points="842.0,332.0 841.8,325.4 844.8,323.1 853.8,321.1 858.1,317.1 862.2,307.0 864.8,301.7 868.7,295.7 868.4,291.7 863.4,285.7 860.1,282.4 855.2,278.3 853.2,275.0 852.1,269.0 847.4,265.0 834.4,259.0 829.7,255.0 828.4,247.0"/>
<polyline points="842.0,332.0 827.9,336.8 821.2,339.6 811.5,344.4 806.7,348.2 801.9,354.6 799.6,359.8 797.0,372.0"/>
<polyline points="660.3,227.6 657.0,239.3"/>
<polyline points="657.0,239.3 665.0,249.3 669.3,254.5 676.4,262.5 679.2,266.9 680.7,271.8 683.0,275.5 688.6,281.5 692.4,286.9 700.4,300.3"/>
<polyline points="626.9,286.9 637.6,276.2 641.6,270.5 645.7,261.5 647.7,256.5 649.6,250.5 651.6,246.7 657.0,239.3"/>
<polyline points="510.0,350.0 512.1,348.2 515.6,345.8 524.6,339.7 530.1,336.2 537.7,331.7 542.7,330.5 550.2,331.2 553.7,330.5 556.7,327.5 563.7,326.2 581.8,325.5 589.8,322.2 595.8,313.2 599.3,308.2 603.8,302.2 605.6,298.2 606.5,292.0 607.0,287.5 607.6,280.1 608.8,277.1 611.8,275.5 614.0,275.5 617.8,277.1 619.3,279.4 620.4,286.4"/>
<polyline points="705.8,353.7 696.4,359.1 692.0,359.1 686.0,355.0 679.3,355.0 665.4,359.1 659.4,361.7 655.3,365.7 651.3,366.3 643.3,364.4 637.9,365.0 629.9,369.1 625.2,372.4 619.2,378.4 608.5,380.4 582.5,380.4 571.1,383.7 563.1,393.7 556.4,398.7 544.4,403.8 538.8,405.8 532.5,407.0"/>
<polyline points="773.0,380.0 769.2,385.0 765.0,388.4 755.4,394.9 751.7,399.7 750.0,407.6 749.8,413.0 750.6,421.0 747.9,426.9 739.0,436.5 734.7,441.4 729.7,448.0"/>
<polyline points="729.7,448.0 721.1,450.2 716.3,451.8 708.4,454.9 704.6,458.1 701.4,464.6 697.6,467.2 689.7,468.9 683.2,470.5 672.0,473.7 666.1,474.0 659.6,471.5 655.4,469.4 648.9,465.3 645.8,461.1 643.0,452.6 640.4,449.2 635.6,447.5 631.9,446.5 625.5,444.9 620.2,443.3 610.6,440.1 605.3,437.7 598.8,433.7 593.5,432.7 583.8,433.4 575.3,434.8 559.3,437.9 551.8,439.5 543.2,441.7"/>
<polyline points="543.2,441.7 535.6,437.1 532.4,435.3 527.2,432.4"/>
<polyline points="543.2,441.7 547.4,460.7 549.7,468.2 553.7,476.1 556.1,480.9 559.3,487.4 564.7,489.8 577.5,490.6 582.9,494.4 586.1,504.7 587.7,510.6 589.3,517.9 592.7,521.6 601.6,525.7 605.8,529.1 609.9,535.5 611.2,540.3 611.2,548.3 609.6,552.1 604.8,555.3 604.0,559.6 606.4,569.2 606.9,575.3 605.9,587.0"/>
<polyline points="729.7,448.0 726.5,463.0 725.7,470.5 725.7,481.7 727.0,487.1 732.4,493.5"/>
<polyline points="732.4,493.5 729.2,504.1 729.5,509.5 732.6,517.5 732.9,522.4 730.5,528.8 727.6,532.6 721.1,537.4 720.6,540.6 725.4,545.4 726.5,548.6 724.9,553.4 722.3,555.8 715.8,558.2 710.5,559.5 700.8,561.2 694.9,562.5 687.0,564.9 681.6,566.8 673.6,569.9 668.8,572.6 660.2,579.0"/>
<polyline points="732.4,493.5 743.1,494.5 747.9,494.5 754.4,493.8 758.6,494.3 765.1,496.7 770.4,497.2 780.0,496.3 785.3,495.0 791.8,491.8 795.1,492.0 800.0,497.0"/>
<polyline points="800.0,497.0 800.0,503.9 802.7,506.7 810.8,509.9 814.8,513.1 818.9,519.5 821.0,524.3 823.4,532.3 825.8,537.1 830.6,543.6 833.8,548.4 838.6,556.3 839.7,562.2 838.0,571.8 840.2,576.6 848.3,581.4 853.9,585.7 862.7,593.8 865.9,598.6 867.0,607.0"/>
<polyline points="955.0,447.0 948.9,451.8 944.2,452.5 934.5,450.9 929.2,450.9 922.7,452.5 919.5,450.3 916.4,442.4 913.7,438.1 908.9,433.3 902.5,432.0 888.0,432.7 878.9,433.3 866.1,434.1 857.8,434.7 846.0,435.7 841.6,438.8 840.4,447.2 840.0,454.0 840.0,466.0 841.0,472.8 845.0,484.0"/>
<polyline points="958.0,372.0 959.2,379.0 961.0,381.6 965.5,384.1 967.2,388.4 968.0,398.6 968.0,402.8 967.2,405.2 968.1,409.1 971.5,418.2 972.4,423.5 971.7,429.9 968.0,432.5 957.5,433.9 954.2,436.8 955.0,447.0"/>
<polyline points="955.0,447.0 958.6,457.7 960.8,462.3 964.7,468.2 968.2,471.6 974.8,476.2 980.0,479.0 989.0,483.0 993.3,485.6 997.3,489.5 997.7,493.0 995.2,499.4 991.9,502.3 984.8,504.2 982.2,506.0 981.5,509.2 983.4,512.5 989.9,519.0 992.7,523.4 994.7,529.8 994.7,534.2 992.0,542.9"/>
</g>
<g fill="#fff" stroke="#fff" stroke-width="0.8" stroke-linejoin="round">
<polygon points="548.0,123.0 570.0,121.0 569.5,135.0 569.0,146.0 570.0,170.0 569.0,200.0 562.0,210.0 554.0,200.0 549.0,170.0 553.0,156.0 557.0,146.0 556.0,136.0 550.0,128.0"/>
<polygon points="622.0,280.0 626.9,286.9 633.6,291.9 647.0,298.6 660.3,300.3 673.7,307.0 687.0,313.6 695.4,317.0 693.7,307.0 700.4,300.3 712.0,319.4 725.5,335.5 737.5,350.0 749.5,352.8 760.0,356.8 776.0,364.9 797.6,367.5 808.3,375.6 824.4,386.3 840.4,395.6 853.8,397.0 859.0,386.3 865.8,383.6 867.2,391.6 861.8,402.3 857.8,407.6 853.8,403.6 840.4,402.3 819.0,394.3 800.3,383.6 787.0,378.0 771.0,372.9 757.5,372.9 746.8,362.0 736.0,356.8 722.8,359.5 705.4,354.0 693.0,340.3 680.5,327.7 670.5,320.2 655.4,312.7 642.9,306.4 630.4,296.4 620.4,286.4"/>
<polygon points="858.0,462.0 852.7,474.8 847.4,482.8 836.7,488.0 820.6,484.0 802.0,486.8 794.0,490.8 785.9,501.5 777.9,517.5 767.2,533.6 761.8,547.0 748.4,560.3 741.0,565.0 745.8,572.0 761.8,563.0 775.2,552.3 780.5,541.6 788.6,523.0 796.6,512.0 807.3,504.0 820.6,497.5 847.4,500.0 868.8,496.0 874.0,488.0 871.4,474.8 863.4,463.0"/>
<polygon points="642.8,529.6 654.9,539.0 662.9,552.3 660.2,565.7 655.0,582.0 652.2,568.3 649.5,555.0 644.2,541.6"/>
</g>
<g fill="none" stroke="#fff" stroke-linejoin="round" stroke-linecap="round">
<polyline stroke-width="3.5" points="562.0,205.0 563.0,212.0 566.7,220.0 573.4,236.8 580.0,248.5"/>
<polyline stroke-width="8.5" points="580.0,248.5 590.0,256.8 598.5,265.0 610.0,266.8 620.0,263.5 628.6,261.8 631.0,270.0 626.9,278.5 623.0,283.0"/>
<polyline stroke-width="3" points="857.0,407.0 856.5,415.7 857.8,434.4 856.5,450.4 855.0,462.0"/>
<polyline stroke-width="4.5" points="744.0,568.0 729.7,574.5 708.3,582.5"/>
<polyline stroke-width="7" points="708.3,582.5 687.0,595.0 672.0,598.0"/>
<polyline stroke-width="10" points="672.0,598.0 660.2,599.0 646.0,597.0 633.5,594.5"/>
</g>
<g fill="#000" stroke="#fff" stroke-width="3" stroke-linejoin="round">
<polygon points="1026.7,315.9 1032.5,317.4 1033.7,319.8 1035.3,333.0 1036.9,336.1 1045.1,342.8 1047.2,345.1 1052.2,353.4 1053.0,356.8 1053.0,369.9 1053.2,373.0 1054.8,379.0 1056.3,381.0 1064.7,387.7 1066.1,389.9 1066.9,397.3 1068.2,398.9 1075.6,401.3 1077.6,402.7 1082.6,409.4 1084.7,410.7 1092.9,412.3 1094.5,413.5 1096.1,419.3 1097.7,420.5 1105.9,422.1 1107.5,423.6 1109.1,430.9 1109.1,432.2 1107.5,433.1 1105.8,433.6 1096.7,436.1 1094.9,438.6 1092.4,451.7 1090.4,454.6 1080.6,459.6 1077.7,460.8 1069.3,463.2 1067.6,464.5 1065.3,470.3 1064.9,473.8 1064.9,490.4 1065.3,493.6 1067.6,497.8 1067.5,499.3 1064.3,505.1 1063.4,507.2 1060.9,514.5 1059.6,515.6 1053.9,514.8 1050.6,515.2 1035.8,518.5 1031.3,519.8 1018.1,524.7 1015.5,526.5 1012.2,533.2 1009.9,535.0 998.3,539.9 996.0,541.0 992.5,542.6 992.4,541.6 995.0,533.3 995.0,530.7 992.4,522.5 990.7,519.9 982.6,511.6 981.4,509.7 982.3,505.5 983.8,504.5 992.9,502.0 994.8,500.3 998.1,492.1 997.8,490.0 992.8,485.1 990.2,483.5 978.8,478.5 975.7,476.8 967.3,471.0 965.2,468.9 960.3,461.6 959.0,459.1 955.7,450.8 955.1,447.7 954.1,436.1 956.1,434.0 969.4,432.4 971.6,430.8 972.5,422.6 971.9,419.5 967.7,407.8 967.1,403.4 968.1,386.9 968.1,384.4 967.1,384.9 966.1,384.5 960.4,381.2 959.1,378.9 956.7,367.3 957.7,365.2 966.8,363.7 969.0,362.9 974.0,359.5 976.2,358.2 985.3,353.3 987.3,351.2 991.4,342.9 993.3,340.6 1001.7,334.0 1004.0,332.2 1010.7,327.2 1010.7,325.5 1004.0,319.7 1004.0,319.2 1010.7,321.6 1013.0,321.9 1021.2,321.1 1022.9,320.4 1025.4,316.2"/>
<polygon points="1036.6,233.0 1042.8,233.0 1043.8,233.8 1043.8,238.7 1045.9,239.6 1059.5,240.5 1063.7,241.5 1076.9,247.3 1080.6,248.5 1090.4,250.1 1092.4,249.8 1094.9,245.6 1095.7,245.6 1098.2,249.8 1099.4,251.0 1104.2,255.2 1106.8,255.8 1118.5,255.8 1120.8,256.8 1124.1,263.5 1126.7,265.0 1139.9,268.4 1142.8,268.2 1147.7,264.1 1149.3,263.4 1154.2,263.4 1154.6,264.7 1152.2,273.0 1152.7,275.6 1158.5,283.9 1159.5,286.5 1160.4,294.7 1159.1,297.8 1149.9,309.4 1147.1,312.5 1138.0,320.7 1136.6,322.7 1136.6,326.8 1138.0,328.0 1147.1,331.4 1150.3,332.0 1161.9,332.9 1161.9,333.6 1150.3,337.8 1147.5,339.8 1140.8,348.9 1140.1,351.6 1141.7,359.9 1143.6,362.2 1153.4,368.9 1154.7,371.2 1153.2,379.4 1153.4,381.6 1156.7,387.4 1158.0,388.6 1162.9,390.2 1163.1,391.1 1158.9,394.6 1158.2,396.5 1157.3,404.7 1156.8,406.8 1154.4,411.8 1154.4,413.6 1156.8,420.3 1156.9,422.3 1155.3,429.0 1152.7,430.4 1137.8,432.8 1133.7,433.3 1122.1,434.2 1119.3,434.0 1112.6,432.4 1111.3,432.1 1109.7,432.1 1109.1,430.9 1107.5,423.6 1105.9,422.1 1097.7,420.5 1096.1,419.3 1094.5,413.5 1092.9,412.3 1084.7,410.7 1082.6,409.4 1077.6,402.7 1075.6,401.3 1068.2,398.9 1066.9,397.3 1066.1,389.9 1064.7,387.7 1056.3,381.0 1054.8,379.0 1053.2,373.0 1053.0,369.9 1053.0,356.8 1052.2,353.4 1047.2,345.1 1045.1,342.8 1036.9,336.1 1035.3,333.0 1033.7,319.8 1032.6,316.4 1027.7,308.2 1026.5,305.3 1024.0,295.4 1023.9,291.5 1025.5,276.6 1025.9,273.0 1026.8,264.7 1027.2,261.8 1028.7,252.0 1029.5,250.1 1032.9,248.5 1033.7,246.4 1035.3,234.8"/>
</g>
<g fill="#000" stroke="#000" stroke-width="0.6" stroke-linejoin="round">
<polygon points="1026.7,315.9 1032.5,317.4 1033.7,319.8 1035.3,333.0 1036.9,336.1 1045.1,342.8 1047.2,345.1 1052.2,353.4 1053.0,356.8 1053.0,369.9 1053.2,373.0 1054.8,379.0 1056.3,381.0 1064.7,387.7 1066.1,389.9 1066.9,397.3 1068.2,398.9 1075.6,401.3 1077.6,402.7 1082.6,409.4 1084.7,410.7 1092.9,412.3 1094.5,413.5 1096.1,419.3 1097.7,420.5 1105.9,422.1 1107.5,423.6 1109.1,430.9 1109.1,432.2 1107.5,433.1 1105.8,433.6 1096.7,436.1 1094.9,438.6 1092.4,451.7 1090.4,454.6 1080.6,459.6 1077.7,460.8 1069.3,463.2 1067.6,464.5 1065.3,470.3 1064.9,473.8 1064.9,490.4 1065.3,493.6 1067.6,497.8 1067.5,499.3 1064.3,505.1 1063.4,507.2 1060.9,514.5 1059.6,515.6 1053.9,514.8 1050.6,515.2 1035.8,518.5 1031.3,519.8 1018.1,524.7 1015.5,526.5 1012.2,533.2 1009.9,535.0 998.3,539.9 996.0,541.0 992.5,542.6 992.4,541.6 995.0,533.3 995.0,530.7 992.4,522.5 990.7,519.9 982.6,511.6 981.4,509.7 982.3,505.5 983.8,504.5 992.9,502.0 994.8,500.3 998.1,492.1 997.8,490.0 992.8,485.1 990.2,483.5 978.8,478.5 975.7,476.8 967.3,471.0 965.2,468.9 960.3,461.6 959.0,459.1 955.7,450.8 955.1,447.7 954.1,436.1 956.1,434.0 969.4,432.4 971.6,430.8 972.5,422.6 971.9,419.5 967.7,407.8 967.1,403.4 968.1,386.9 968.1,384.4 967.1,384.9 966.1,384.5 960.4,381.2 959.1,378.9 956.7,367.3 957.7,365.2 966.8,363.7 969.0,362.9 974.0,359.5 976.2,358.2 985.3,353.3 987.3,351.2 991.4,342.9 993.3,340.6 1001.7,334.0 1004.0,332.2 1010.7,327.2 1010.7,325.5 1004.0,319.7 1004.0,319.2 1010.7,321.6 1013.0,321.9 1021.2,321.1 1022.9,320.4 1025.4,316.2"/>
<polygon points="1036.6,233.0 1042.8,233.0 1043.8,233.8 1043.8,238.7 1045.9,239.6 1059.5,240.5 1063.7,241.5 1076.9,247.3 1080.6,248.5 1090.4,250.1 1092.4,249.8 1094.9,245.6 1095.7,245.6 1098.2,249.8 1099.4,251.0 1104.2,255.2 1106.8,255.8 1118.5,255.8 1120.8,256.8 1124.1,263.5 1126.7,265.0 1139.9,268.4 1142.8,268.2 1147.7,264.1 1149.3,263.4 1154.2,263.4 1154.6,264.7 1152.2,273.0 1152.7,275.6 1158.5,283.9 1159.5,286.5 1160.4,294.7 1159.1,297.8 1149.9,309.4 1147.1,312.5 1138.0,320.7 1136.6,322.7 1136.6,326.8 1138.0,328.0 1147.1,331.4 1150.3,332.0 1161.9,332.9 1161.9,333.6 1150.3,337.8 1147.5,339.8 1140.8,348.9 1140.1,351.6 1141.7,359.9 1143.6,362.2 1153.4,368.9 1154.7,371.2 1153.2,379.4 1153.4,381.6 1156.7,387.4 1158.0,388.6 1162.9,390.2 1163.1,391.1 1158.9,394.6 1158.2,396.5 1157.3,404.7 1156.8,406.8 1154.4,411.8 1154.4,413.6 1156.8,420.3 1156.9,422.3 1155.3,429.0 1152.7,430.4 1137.8,432.8 1133.7,433.3 1122.1,434.2 1119.3,434.0 1112.6,432.4 1111.3,432.1 1109.7,432.1 1109.1,430.9 1107.5,423.6 1105.9,422.1 1097.7,420.5 1096.1,419.3 1094.5,413.5 1092.9,412.3 1084.7,410.7 1082.6,409.4 1077.6,402.7 1075.6,401.3 1068.2,398.9 1066.9,397.3 1066.1,389.9 1064.7,387.7 1056.3,381.0 1054.8,379.0 1053.2,373.0 1053.0,369.9 1053.0,356.8 1052.2,353.4 1047.2,345.1 1045.1,342.8 1036.9,336.1 1035.3,333.0 1033.7,319.8 1032.6,316.4 1027.7,308.2 1026.5,305.3 1024.0,295.4 1023.9,291.5 1025.5,276.6 1025.9,273.0 1026.8,264.7 1027.2,261.8 1028.7,252.0 1029.5,250.1 1032.9,248.5 1033.7,246.4 1035.3,234.8"/>
</g>
<polyline fill="none" stroke="#fff" stroke-width="3" stroke-linejoin="round" points="1029.5,312.0 1033.4,317.7 1035.6,335.1 1046.4,343.8 1053.0,354.7 1053.0,372.0 1055.0,380.0 1066.0,388.7 1067.0,398.5 1076.8,401.7 1083.4,410.4 1094.2,412.6 1096.4,420.2 1107.2,422.4 1109.4,432.1 1109.0,434.5"/>
<polygon fill="#000" points="774.0,621.4 776.0,623.0 776.5,624.3 776.9,628.3 778.0,629.6 782.9,631.2 784.4,632.5 786.0,636.5 788.3,637.4 797.4,637.4 800.3,638.4 805.2,643.4 809.1,644.2 822.2,643.5 825.2,644.3 826.0,649.2 828.1,650.1 837.1,649.2 838.3,650.6 835.1,658.0 835.8,659.1 842.3,656.5 844.2,656.7 846.8,660.1 847.5,661.7 848.2,665.8 849.8,667.0 856.4,668.7 859.2,670.2 865.6,676.0 867.7,679.3 871.1,689.1 872.1,693.0 873.7,701.2 876.5,703.5 888.0,705.9 892.6,706.4 902.6,706.7 905.8,705.8 910.7,701.7 912.9,700.3 918.6,697.8 920.2,696.1 921.8,690.4 922.7,689.2 925.2,689.2 926.0,690.2 927.7,695.1 929.4,696.2 935.9,696.2 937.7,695.1 939.3,690.2 941.8,688.5 951.6,685.2 957.4,684.8 974.5,686.5 978.5,687.5 980.2,690.8 979.8,692.0 976.5,694.5 974.6,695.5 968.9,698.0 967.3,702.4 965.7,720.3 963.6,724.5 955.4,726.2 949.8,727.0 931.9,729.5 926.6,729.5 920.1,727.0 917.5,725.6 911.7,721.6 909.3,720.9 903.5,721.6 901.2,723.0 896.4,728.8 895.1,731.2 894.4,737.0 892.6,739.1 885.3,743.1 883.0,744.9 879.7,748.9 878.7,750.8 877.0,755.8 875.7,756.3 870.8,753.8 866.5,753.8 851.9,756.3 847.3,757.8 840.7,762.7 837.9,765.4 831.4,772.7 829.0,776.2 824.0,785.3 821.1,788.6 812.1,795.1 806.2,796.6 787.3,797.1 781.9,796.2 775.4,791.7 772.8,790.2 767.0,787.7 765.3,786.3 762.8,782.2 762.7,780.6 764.3,777.4 765.6,776.3 769.6,774.7 770.4,773.4 770.1,769.3 770.4,766.3 772.0,756.5 772.7,753.0 774.4,746.4 774.5,743.2 773.8,735.1 772.5,732.2 767.6,727.3 764.1,724.9 752.6,718.4 747.4,715.9 734.3,711.0 729.0,709.5 717.5,706.9 713.3,707.1 705.1,710.3 702.9,710.1 700.5,706.2 699.8,704.2 698.9,699.3 699.8,697.3 704.7,693.3 707.8,691.5 717.7,687.4 721.9,685.1 731.7,678.6 736.3,675.6 747.7,668.3 752.6,665.6 764.1,660.7 768.1,659.3 775.4,657.6 777.2,656.2 778.0,651.4 777.3,649.8 773.3,647.3 772.6,645.6 773.4,639.8 773.2,637.6 771.6,632.6 771.4,630.4 772.2,624.6 772.6,623.0 773.4,621.4"/>
<use href="#flag" x="1076.3" y="318.3"/>
<use href="#flag" x="1007.8" y="418.7"/>
<use href="#flag" x="793.2" y="703.8"/>
<text class="lbl" transform="translate(223,143.3) scale(1.1,1)" fill="#111">+20%</text>
<text class="lbl" transform="translate(324,192) scale(1.1,1)" fill="#111">+35%</text>
<text class="lbl" transform="translate(434,206) scale(1.1,1)" fill="#111">0%</text>
<text class="lbl" transform="translate(645.7,141.7) scale(1.1,1)" fill="#111">+10%</text>
<text class="lbl" transform="translate(777.3,175.3) scale(1.1,1)" fill="#111">+15%</text>
<text class="lbl" transform="translate(154.4,273.2) scale(1.1,1)" fill="#fff">+96%</text>
<text class="lbl" transform="translate(252.9,317.6) scale(1.1,1)" fill="#fff">+81%</text>
<text class="lbl" transform="translate(342,309) scale(1.1,1)" fill="#111">+46%</text>
<text class="lbl" transform="translate(550.8,294.5) scale(1.1,1)" fill="#111">−11%</text>
<text class="lbl" transform="translate(765.4,291) scale(1.1,1)" fill="#111">+5%</text>
<text class="lbl" transform="translate(935.3,294.4) scale(1.1,1)" fill="#111">0%</text>
<text class="lbl" transform="translate(606.9,349) scale(1.1,1)" fill="#111">+88%</text>
<text class="lbl" transform="translate(447,372.7) scale(1.1,1)" fill="#111">+55%</text>
<text class="lbl" transform="translate(95.1,395.2) scale(1.1,1)" fill="#fff">+225%</text>
<text class="lbl" transform="translate(189,375) scale(1.1,1)" fill="#fff">+128%</text>
<text class="lbl" transform="translate(269.2,426.1) scale(1.1,1)" fill="#fff">+156%</text>
<text class="lbl" transform="translate(675,414.7) scale(1.1,1)" fill="#111">+5%</text>
<text class="lbl" transform="translate(800.3,430.9) scale(1.1,1)" fill="#111">+34%</text>
<text class="lbl" transform="translate(653.1,511.9) scale(1.1,1)" fill="#111">−5%</text>
<text class="lbl" transform="translate(907,518.4) scale(1.1,1)" fill="#111">+41%</text>
<text class="lbl" transform="translate(561.1,564.4) scale(1.1,1)" fill="#111">−21%</text>
<text class="lbl" transform="translate(769.4,596.1) scale(1.1,1)" fill="#111">−8%</text>
<circle cx="948.1" cy="106.8" r="33" fill="url(#og)"/>
<circle cx="935.2" cy="100.5" r="11.5" fill="#fff"/><circle cx="961.9" cy="100.7" r="11.3" fill="#fff"/>
<circle cx="938.3" cy="100" r="5.7" fill="#231a20"/><circle cx="964.4" cy="100" r="5.6" fill="#231a20"/>
<circle cx="934.6" cy="96.2" r="2.6" fill="#fff"/><circle cx="960.8" cy="96.4" r="2.6" fill="#fff"/>
<rect x="1039.2" y="754.2" width="28.3" height="27.8" fill="url(#lg)"/>

</svg>
<div class="t" id="flatfy" style="left:997.5px;top:80.2px;font-size:54px;font-weight:700;letter-spacing:1.5px">flatfy</div>
<div class="t" id="lun" style="left:1079.6px;top:748.3px;font-size:36px;font-weight:400;letter-spacing:1.5px;-webkit-text-stroke:0.6px #111;transform:scaleX(1.16);transform-origin:0 0">лун</div>
<div class="t" id="h1" style="left:50px;top:517.2px;font-size:42px;font-weight:700;line-height:51.2px;-webkit-text-stroke:0.5px #111;transform:scaleX(1.162);transform-origin:0 0">Вартість житла<br>під оренду<br>в Україні</div>
<div class="t" id="s1" style="-webkit-text-stroke:0.35px #111;left:51.5px;top:695.3px;font-size:14px;transform:scaleX(1.133);transform-origin:0 0">Травень 2022, порівняно з жовтнем 2021</div>
<div class="t" id="s2" style="-webkit-text-stroke:0.35px #111;left:51px;top:725.3px;font-size:14px;transform:scaleX(1.151);transform-origin:0 0">Рахували в доларах за квадратний метр</div>
<div class="t" id="s3" style="-webkit-text-stroke:0.35px #111;left:51.5px;top:774.4px;font-size:14px;transform:scaleX(1.17);transform-origin:0 0">© Дані Flatfy — ринок вторинної нерухомості</div>
<div class="t" id="s4" style="-webkit-text-stroke:0.35px #111;left:603px;top:774.3px;font-size:14px;transform:scaleX(1.195);transform-origin:0 0">Окупований Крим</div>
<div class="t" id="s5" style="right:49.3px;top:512.6px;font-size:14px;line-height:21.6px;text-align:right;-webkit-text-stroke:0.35px #111;transform:scaleX(1.225);transform-origin:100% 0"><span style="margin-right:3.8px">Надійна</span><br>інформація<br>відсутня</div>

</body></html>
